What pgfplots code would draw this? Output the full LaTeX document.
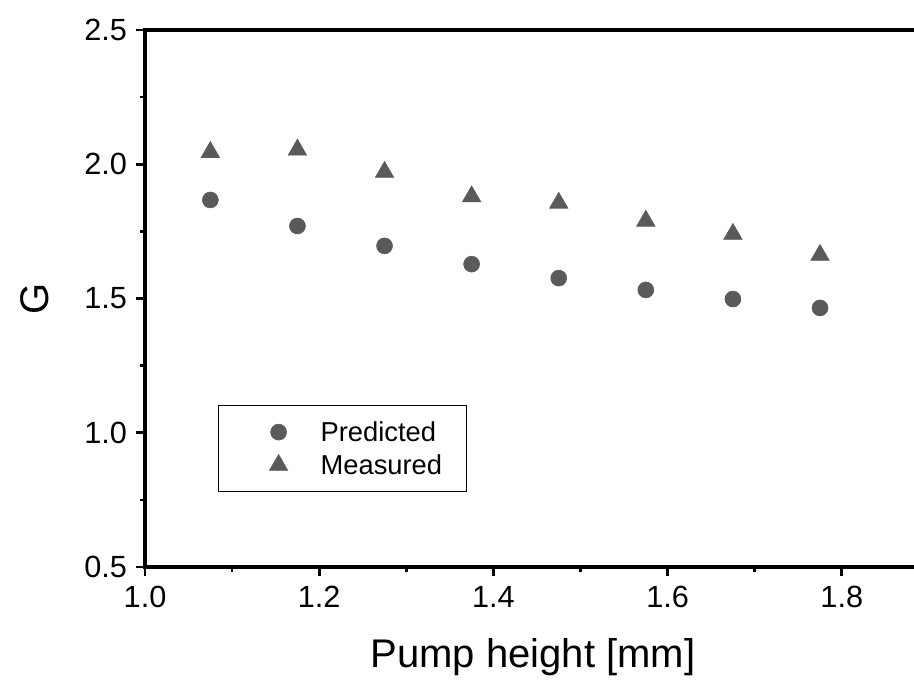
\documentclass[border=0pt]{standalone}
\usepackage{fontspec}
\setmainfont{Liberation Sans}
\usepackage{pgfplots}
\pgfplotsset{compat=1.18}
\definecolor{markgray}{HTML}{5A5A5A}
\begin{document}
\begin{tikzpicture}
\begin{axis}[
  x=653.25pt, y=201.4pt,
  xmin=1, xmax=2, ymin=0.5, ymax=2.5,
  separate axis lines,
  axis line style={line width=2.4pt, line cap=rect},
  xtick={1.0,1.2,1.4,1.6,1.8},
  minor xtick={1.1,1.3,1.5,1.7,1.9},
  ytick={0.5,1.0,1.5,2.0,2.5},
  minor ytick={0.75,1.25,1.75,2.25},
  tick align=outside,
  xtick pos=left, ytick pos=left,
  major tick length=7pt, minor tick length=3.5pt,
  tick style={black, line width=2pt},
  /pgf/number format/assume math mode=true,
  /pgf/number format/fixed,
  /pgf/number format/fixed zerofill,
  /pgf/number format/precision=1,
  tick label style={font=\fontsize{23}{27}\selectfont},
  xticklabel style={yshift=-4pt},
  yticklabel style={xshift=-3pt},
  xlabel={Pump height [mm]},
  ylabel={G},
  label style={font=\fontsize{30}{35}\selectfont},
  xlabel style={at={(axis description cs:0.4455,-0.168)}, anchor=center},
  ylabel style={at={(axis description cs:-0.1263,0.5)}, anchor=center},
  legend style={
    at={(axis cs:1.0838,1.1034)}, anchor=north west,
    draw=black, line width=0.9pt,
    font=\fontsize{20.5}{24}\selectfont,
    inner xsep=18pt, inner ysep=7.5pt,
    nodes={inner sep=0pt},
    row sep=0pt, column sep=0pt,
  },
  legend cell align=left,
  legend image code/.code={%
    \path[draw=none] (0pt,-12.375pt) rectangle (58.5pt,12.375pt);
    \draw[#1, only marks] plot coordinates {(27pt,0pt)};
  },
]
\addplot[only marks, mark=*, mark size=6pt, mark options={fill=markgray, draw=markgray, line width=0.4pt}]
  coordinates {(1.075,1.867) (1.175,1.770) (1.275,1.696) (1.375,1.628) (1.475,1.576) (1.575,1.532) (1.675,1.498) (1.775,1.465)};
\addlegendentry{Predicted}
\addplot[only marks, mark=triangle*, mark size=8pt, mark options={fill=markgray, draw=markgray, line width=0.4pt}]
  coordinates {(1.075,2.045) (1.175,2.054) (1.275,1.971) (1.375,1.880) (1.475,1.856) (1.575,1.789) (1.675,1.740) (1.775,1.662)};
\addlegendentry{Measured}
\coordinate (bbsw) at (axis cs:0.8335,0.0754);
\coordinate (bbne) at (axis cs:1.8829,2.6117);
\end{axis}
\pgfresetboundingbox
\useasboundingbox (bbsw) rectangle (bbne);
\end{tikzpicture}
\end{document}
